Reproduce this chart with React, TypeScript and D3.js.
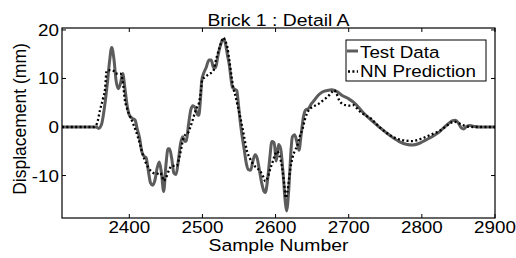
import React from 'react';
import * as d3 from 'd3';

// Test data (solid grey)
const testSamples = [
  2308, 2340, 2355, 2358, 2362, 2366, 2370, 2373, 2376, 2379, 2382, 2385, 2388, 2391, 2394, 2397,
  2400, 2404, 2408, 2411, 2414, 2417, 2420, 2423, 2426, 2429, 2432, 2435, 2438, 2441, 2444, 2447,
  2450, 2453, 2455, 2458, 2461, 2464, 2467, 2470, 2473, 2476, 2478, 2481, 2484, 2487, 2490, 2493,
  2495, 2497, 2499, 2502, 2505, 2509, 2512, 2515, 2518, 2521, 2524, 2527, 2529, 2531, 2534, 2537,
  2539, 2541, 2544, 2547, 2549, 2551, 2554, 2557, 2560, 2563, 2566, 2569, 2572, 2575, 2578, 2581,
  2584, 2586, 2589, 2592, 2595, 2598, 2601, 2604, 2607, 2610, 2613, 2615, 2618, 2621, 2623, 2626,
  2629, 2632, 2635, 2638, 2641, 2645, 2649, 2653, 2658, 2664, 2670, 2677, 2684, 2691, 2700, 2709,
  2715, 2721, 2730, 2737, 2744, 2755, 2769, 2780, 2787, 2796, 2805, 2815, 2824, 2831, 2837, 2842,
  2846, 2850, 2854, 2857, 2861, 2866, 2872, 2880, 2900,
];
const testValues = [
  0, 0, 0, -0.3, 0.5, 4, 9, 13.5, 16.4, 14, 9.5, 7.9, 9, 11.0, 8, 4.5,
  2.5, 1.8, 1.4, -0.5, -2.2, -5.0, -6.0, -6.3, -9, -11.5, -12.0, -11.0, -8.5, -7.2, -9.5, -13.3,
  -8, -4.5, -4.5, -6.5, -9.5, -9.8, -7, -3.5, -2.0, -3.0, -2.8, 0.5, 3.5, 4.4, 4.0, 2.6,
  2.4, 5, 9.5, 11.2, 12.2, 13.8, 13.8, 12.3, 12.2, 14.5, 16.5, 17.8, 18.1, 17.5, 15.0, 12.5,
  10, 8.2, 7.8, 7.5, 5, 2, -1.6, -4.5, -7.5, -8.8, -8.9, -7, -5.7, -6.5, -9, -11.5,
  -13.2, -13.5, -11, -6.5, -3.0, -3.2, -7.0, -3.6, -4.5, -9, -15, -17.3, -13, -5, -2, -1.6,
  -3, -4.8, -1.5, 2, 3.5, 3.8, 4.8, 5.5, 6.5, 7.2, 7.5, 7.7, 7.3, 6.5, 5.8, 4.8,
  3.8, 2.8, 1.5, 0.6, -0.3, -1.6, -3.0, -3.6, -3.7, -3.4, -2.7, -1.9, -1.0, 0, 0.8, 1.3,
  1.4, 0.8, -0.2, -0.4, 0.1, 0.3, 0.1, 0, 0,
];

// NN prediction (dotted black)
const nnSamples = [
  2308, 2352, 2356, 2360, 2364, 2367, 2369, 2374, 2378, 2381, 2384, 2388, 2391, 2394, 2397, 2400,
  2403, 2406, 2409, 2412, 2415, 2418, 2421, 2424, 2427, 2431, 2435, 2439, 2442, 2445, 2447, 2450,
  2454, 2458, 2462, 2465, 2468, 2471, 2474, 2478, 2481, 2484, 2487, 2490, 2493, 2495, 2498, 2500,
  2503, 2506, 2510, 2514, 2516, 2518, 2520, 2523, 2525, 2527, 2529, 2531, 2534, 2537, 2540, 2543,
  2545, 2548, 2551, 2554, 2557, 2561, 2565, 2570, 2575, 2579, 2583, 2586, 2589, 2593, 2596, 2599,
  2602, 2605, 2609, 2612, 2614, 2616, 2618, 2620, 2623, 2626, 2630, 2633, 2637, 2640, 2643, 2646,
  2650, 2655, 2659, 2665, 2671, 2676, 2680, 2683, 2687, 2691, 2696, 2702, 2707, 2711, 2716, 2723,
  2730, 2736, 2742, 2750, 2760, 2773, 2787, 2801, 2812, 2824, 2832, 2838, 2844, 2850, 2856, 2862,
  2870, 2900,
];
const nnValues = [
  0, 0, 0.8, 3.5, 5.8, 8, 11.6, 11.7, 11.6, 11.0, 11.0, 11.0, 9.5, 5.5, 3.8, 2.5,
  1.5, 0.4, -0.8, -2.2, -3.7, -5.5, -6.8, -7.8, -8.6, -9.2, -9.6, -9.6, -9.4, -10.2, -11.1, -10.5,
  -9.0, -8.0, -8.0, -8.0, -6.5, -4.5, -2.2, -1.4, -1.0, 0.2, 1.6, 3.1, 4.2, 4.8, 7.5, 9.9,
  10.2, 10.6, 11.0, 11.4, 12.0, 13.5, 14.7, 16.2, 17.1, 18.0, 18.4, 17.8, 16.5, 13.5, 10.2, 7.5,
  6.5, 4.5, 2.5, 0.4, -2.0, -5.0, -6.5, -7.8, -8.5, -9.1, -10.2, -11.2, -10.5, -8.5, -7.2, -5.8,
  -5.0, -5.8, -8.4, -12, -14.6, -13.5, -11.2, -8.8, -6.4, -5.0, -3.7, -2.0, -0.3, 1.5, 2.8, 3.6,
  4.1, 4.5, 4.8, 5.5, 6.2, 7.0, 7.6, 7.0, 5.5, 4.8, 4.5, 4.4, 4.5, 3.9, 3.1, 2.4,
  1.8, 0.9, 0, -1.0, -2.0, -2.7, -2.9, -2.3, -1.6, -0.8, 0, 0.7, 1.1, 0.8, 0.4, 0.1,
  0, 0,
];

const xTicks = [2400, 2500, 2600, 2700, 2800, 2900];
const yTicks = [-10, 0, 10, 20];
const legendLabels = ['Test Data', 'NN Prediction'];

const W = 516;
const H = 258;
const margin = { left: 62, right: 21, top: 28, bottom: 40 };
const FONT = 'Liberation Sans, Arial, sans-serif';
const SX = 1.14; // the reference is slightly stretched horizontally
const GREY = '#5c5c5c';

export default function App() {
  const x = d3.scaleLinear().domain([2308, 2900]).range([margin.left, W - margin.right]);
  const y = d3.scaleLinear().domain([-18.75, 20.4]).range([H - margin.bottom, margin.top]);

  const testPath = d3
    .line<number>()
    .x((d, i) => x(testSamples[i]))
    .y((d) => y(d))
    .curve(d3.curveMonotoneX)(testValues) || '';
  const nnPath = d3
    .line<number>()
    .x((d, i) => x(nnSamples[i]))
    .y((d) => y(d))
    .curve(d3.curveMonotoneX)(nnValues) || '';

  const x0 = margin.left;
  const x1 = W - margin.right;
  const y0 = margin.top;
  const y1 = H - margin.bottom;
  const tl = 4;

  const text = (tx: number, ty: number, s: string, anchor: string, size = 16.5) => (
    <text
      transform={`translate(${tx},${ty}) scale(${SX},1)`}
      textAnchor={anchor}
      fontSize={size}
      fontFamily={FONT}
      fill="#000"
    >
      {s}
    </text>
  );

  return (
    <svg width={W} height={H} style={{ position: 'absolute', left: 0, top: 0, background: '#fff' }}>
      <rect x={0} y={0} width={W} height={H} fill="#fff" />
      <defs>
        <clipPath id="plot-clip">
          <rect x={x0} y={y0} width={x1 - x0} height={y1 - y0} />
        </clipPath>
      </defs>

      {/* ticks, inward on all four sides */}
      {xTicks.map((t) => (
        <g key={'xt' + t}>
          <line x1={x(t)} x2={x(t)} y1={y1} y2={y1 - tl} stroke="#000" />
          <line x1={x(t)} x2={x(t)} y1={y0} y2={y0 + tl} stroke="#000" />
          {text(x(t), 233, String(t), 'middle')}
        </g>
      ))}
      {yTicks.map((t) => (
        <g key={'yt' + t}>
          <line x1={x0} x2={x0 + tl} y1={y(t)} y2={y(t)} stroke="#000" />
          <line x1={x1} x2={x1 - tl} y1={y(t)} y2={y(t)} stroke="#000" />
          {text(x0 - 3, y(t) + 6, String(t), 'end')}
        </g>
      ))}

      <g clipPath="url(#plot-clip)">
        <path d={testPath} fill="none" stroke={GREY} strokeWidth={3} strokeLinejoin="round" />
        <path d={nnPath} fill="none" stroke="#000" strokeWidth={2.3} strokeDasharray="2,2.4" />
      </g>

      <rect x={x0} y={y0} width={x1 - x0} height={y1 - y0} fill="none" stroke="#000" strokeWidth={1.2} />

      {/* title */}
      {text((x0 + x1) / 2, 26, 'Brick 1 : Detail A', 'middle', 17)}

      {/* axis labels */}
      {text((x0 + x1) / 2, 251, 'Sample Number', 'middle', 17)}
      <text
        transform={`translate(26,119) rotate(-90)`}
        textAnchor="middle"
        fontSize={17.5}
        fontFamily={FONT}
        fill="#000"
      >
        Displacement (mm)
      </text>

      {/* legend */}
      <g>
        <rect x={346} y={40} width={140} height={41} fill="#fff" stroke="#000" strokeWidth={1} />
        <line x1={347} x2={358} y1={51} y2={51} stroke={GREY} strokeWidth={3} />
        <line x1={348} x2={358} y1={71.5} y2={71.5} stroke="#000" strokeWidth={2.3} strokeDasharray="2,2.4" />
        {text(360, 58, legendLabels[0], 'start')}
        {text(360, 77, legendLabels[1], 'start')}
      </g>
    </svg>
  );
}
